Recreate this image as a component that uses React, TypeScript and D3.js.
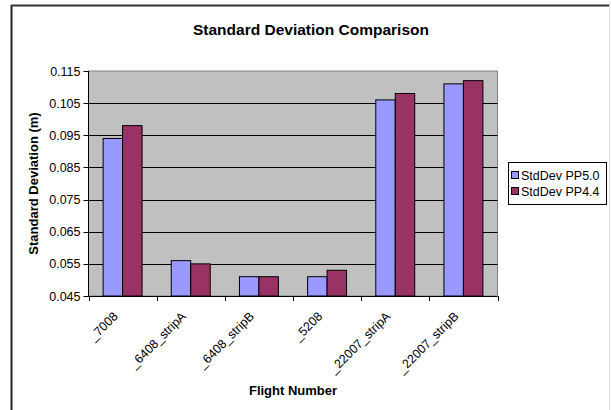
import React from "react";
import * as d3 from "d3";

const categories = ["_7008", "_6408_stripA", "_6408_stripB", "_5208", "_22007_stripA", "_22007_stripB"];
const seriesNames = ["StdDev PP5.0", "StdDev PP4.4"];
const pp50 = [0.094, 0.056, 0.051, 0.051, 0.106, 0.111];
const pp44 = [0.098, 0.055, 0.051, 0.053, 0.108, 0.112];
const yTicks = [0.045, 0.055, 0.065, 0.075, 0.085, 0.095, 0.105, 0.115];
const colors = ["#9999FF", "#993366"];

const W = 611;
const H = 410;
const plot = { left: 88.5, right: 497.5, top: 71, bottom: 296 };
const font = "Arial, 'Liberation Sans', sans-serif";

export default function App() {
  const x = d3.scaleBand<string>().domain(categories).range([plot.left, plot.right]);
  const y = d3.scaleLinear().domain([0.045, 0.115]).range([plot.bottom, plot.top]);
  const bw = x.bandwidth() / 3.5;
  const series = [pp50, pp44];

  return (
    <svg width={W} height={H} style={{ position: "absolute", left: 0, top: 0, background: "#fff" }} fontFamily={font}>
      <rect x={0} y={0} width={W} height={H} fill="#fff" />
      {/* chart frame */}
      <line x1={11.5} y1={5} x2={11.5} y2={H} stroke="#222" strokeWidth={2} />
      <line x1={11} y1={5.5} x2={610} y2={5.5} stroke="#333" strokeWidth={2} />
      <line x1={609.5} y1={5} x2={609.5} y2={H} stroke="#ddd" strokeWidth={1} />

      <text x={311} y={35} textAnchor="middle" fontSize={15.5} fontWeight="bold" fill="#000">
        Standard Deviation Comparison
      </text>

      {/* plot area */}
      <rect x={plot.left} y={plot.top} width={plot.right - plot.left} height={plot.bottom - plot.top} fill="#C0C0C0" stroke="#808080" strokeWidth={1} />
      {yTicks.slice(1, -1).map((t) => (
        <line key={t} x1={plot.left} x2={plot.right} y1={Math.round(y(t)) + 0.5} y2={Math.round(y(t)) + 0.5} stroke="#000" strokeWidth={1} />
      ))}

      {/* bars */}
      {categories.map((c, i) =>
        series.map((s, k) => (
          <rect
            key={c + k}
            x={(x(c) as number) + 0.75 * bw + k * bw}
            y={y(s[i])}
            width={bw}
            height={plot.bottom - y(s[i])}
            fill={colors[k]}
            stroke="#000"
            strokeWidth={1}
          />
        ))
      )}

      {/* y axis */}
      <line x1={plot.left} x2={plot.left} y1={plot.top} y2={plot.bottom} stroke="#000" />
      {yTicks.map((t) => (
        <g key={t}>
          <line x1={plot.left - 5} x2={plot.left} y1={Math.round(y(t)) + 0.5} y2={Math.round(y(t)) + 0.5} stroke="#000" />
          <text x={plot.left - 8} y={y(t) + 4.5} textAnchor="end" fontSize={12.5} fill="#000">
            {d3.format(".3f")(t)}
          </text>
        </g>
      ))}
      <text
        transform={`translate(38,${(plot.top + plot.bottom) / 2}) rotate(-90)`}
        textAnchor="middle"
        fontSize={13}
        fontWeight="bold"
        fill="#000"
      >
        Standard Deviation (m)
      </text>

      {/* x axis */}
      <line x1={plot.left} x2={plot.right} y1={plot.bottom + 0.5} y2={plot.bottom + 0.5} stroke="#000" />
      {categories.concat([""]).map((c, i) => {
        const px = Math.round(plot.left + i * x.step()) + 0.5;
        return <line key={"t" + i} x1={px} x2={px} y1={plot.bottom} y2={plot.bottom + 5} stroke="#000" />;
      })}
      {categories.map((c) => {
        const cx = (x(c) as number) + x.bandwidth() / 2;
        return (
          <text
            key={"l" + c}
            transform={`translate(${cx - 4},${plot.bottom + 21}) rotate(-45)`}
            textAnchor="end"
            fontSize={12.5}
            fill="#000"
          >
            {c}
          </text>
        );
      })}
      <text x={(plot.left + plot.right) / 2} y={395} textAnchor="middle" fontSize={13} fontWeight="bold" fill="#000">
        Flight Number
      </text>

      {/* legend */}
      <rect x={508.5} y={162.5} width={98} height={42} fill="#fff" stroke="#000" />
      {seriesNames.map((n, k) => (
        <g key={n}>
          <rect x={511.5} y={171.5 + k * 16} width={7} height={7} fill={colors[k]} stroke="#000" />
          <text x={521} y={180 + k * 16} fontSize={12.5} fill="#000">
            {n}
          </text>
        </g>
      ))}
    </svg>
  );
}
